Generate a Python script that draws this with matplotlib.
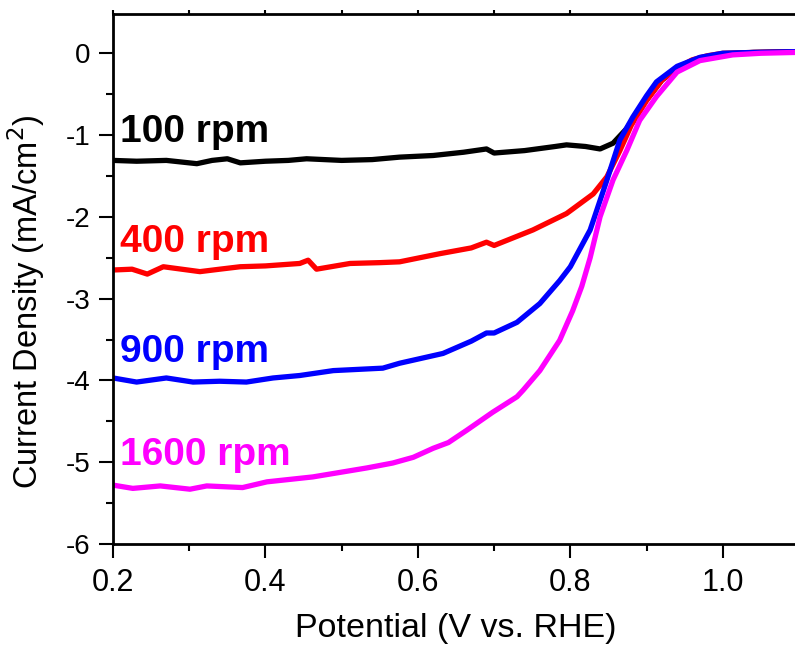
import matplotlib
matplotlib.use("Agg")
import matplotlib.pyplot as plt
from matplotlib.ticker import MultipleLocator, FormatStrFormatter, FuncFormatter

plt.rcParams['font.family'] = ['Liberation Sans', 'DejaVu Sans']

# Data (potential V vs RHE, current density mA/cm2)
x_100 = [0.200, 0.231, 0.270, 0.290, 0.310, 0.330, 0.350, 0.367, 0.400, 0.430,
         0.454, 0.500, 0.540, 0.576, 0.620, 0.660, 0.690, 0.700, 0.740, 0.780,
         0.795, 0.820, 0.839, 0.856, 0.874, 0.890, 0.900, 0.920, 0.940, 0.970,
         1.000, 1.040, 1.095]
y_100 = [-1.31, -1.32, -1.31, -1.33, -1.35, -1.31, -1.29, -1.34, -1.32, -1.31,
         -1.29, -1.31, -1.30, -1.27, -1.25, -1.21, -1.17, -1.22, -1.19, -1.14,
         -1.12, -1.14, -1.17, -1.10, -0.92, -0.70, -0.57, -0.33, -0.18, -0.06,
         -0.01, 0.01, 0.02]

x_400 = [0.200, 0.225, 0.245, 0.266, 0.290, 0.314, 0.340, 0.367, 0.400, 0.445,
         0.456, 0.467, 0.511, 0.550, 0.576, 0.629, 0.670, 0.690, 0.700, 0.751,
         0.795, 0.830, 0.848, 0.865, 0.880, 0.900, 0.920, 0.940, 0.960, 0.980,
         1.000, 1.040, 1.095]
y_400 = [-2.65, -2.64, -2.70, -2.61, -2.64, -2.67, -2.64, -2.61, -2.60, -2.57,
         -2.53, -2.64, -2.57, -2.56, -2.55, -2.45, -2.38, -2.31, -2.35, -2.16,
         -1.96, -1.72, -1.51, -1.19, -0.88, -0.58, -0.33, -0.18, -0.08, -0.03,
         0.00, 0.01, 0.02]

x_900 = [0.200, 0.231, 0.270, 0.305, 0.340, 0.375, 0.410, 0.445, 0.489, 0.554,
         0.576, 0.633, 0.670, 0.690, 0.700, 0.730, 0.760, 0.786, 0.800, 0.826,
         0.848, 0.865, 0.882, 0.900, 0.913, 0.940, 0.970, 1.000, 1.040, 1.095]
y_900 = [-3.97, -4.02, -3.97, -4.02, -4.01, -4.02, -3.97, -3.94, -3.88, -3.85,
         -3.79, -3.67, -3.52, -3.42, -3.42, -3.29, -3.06, -2.78, -2.61, -2.16,
         -1.55, -1.06, -0.78, -0.52, -0.35, -0.16, -0.05, 0.00, 0.01, 0.02]

x_1600 = [0.200, 0.226, 0.262, 0.301, 0.323, 0.370, 0.402, 0.462, 0.533, 0.567,
          0.594, 0.620, 0.640, 0.664, 0.698, 0.730, 0.738, 0.760, 0.786, 0.803,
          0.815, 0.826, 0.839, 0.856, 0.874, 0.891, 0.913, 0.940, 0.970, 1.013,
          1.050, 1.095]
y_1600 = [-5.28, -5.32, -5.29, -5.33, -5.29, -5.31, -5.24, -5.18, -5.07, -5.01,
          -4.94, -4.83, -4.76, -4.61, -4.39, -4.20, -4.12, -3.88, -3.51, -3.15,
          -2.85, -2.50, -2.00, -1.55, -1.19, -0.82, -0.53, -0.23, -0.09, -0.02,
          0.00, 0.01]

labels = ["100 rpm", "400 rpm", "900 rpm", "1600 rpm"]
colors = ["#000000", "#ff0000", "#0000ff", "#ff00ff"]
label_y = [-1.09, -2.43, -3.78, -5.03]

fig = plt.figure(figsize=(7.95, 6.47), dpi=100)
ax = fig.add_axes([113/795, 103/647, 686/795, 530/647])

series = [(x_100, y_100), (x_400, y_400), (x_900, y_900), (x_1600, y_1600)]
for (xs, ys), c in zip(series, colors):
    ax.plot(xs, ys, color=c, lw=3.8)

for lab, c, ly in zip(labels, colors, label_y):
    ax.text(0.209, ly, lab, color=c, fontsize=28, fontweight='bold',
            ha='left', va='baseline')

ax.set_xlim(0.2, 1.1)
ax.set_ylim(-6, 0.48)
ax.xaxis.set_major_locator(MultipleLocator(0.2))
ax.xaxis.set_minor_locator(MultipleLocator(0.1))
ax.yaxis.set_major_locator(MultipleLocator(1))
ax.yaxis.set_minor_locator(MultipleLocator(0.5))
ax.xaxis.set_major_formatter(FormatStrFormatter('%.1f'))
ax.yaxis.set_major_formatter(FuncFormatter(lambda v, p: f"{int(round(v))}"))

ax.tick_params(axis='both', which='major', direction='out', length=10, width=1.5)
ax.tick_params(axis='both', which='minor', direction='out', length=5, width=1.5)
ax.tick_params(axis='x', which='major', labelsize=22, pad=7)
ax.tick_params(axis='y', which='major', labelsize=20, pad=6)
ax.tick_params(axis='x', which='both', top=True)
for t in ax.xaxis.get_major_ticks() + ax.xaxis.get_minor_ticks():
    t.tick2line.set_markersize(3)
for s in ax.spines.values():
    s.set_linewidth(2)
ax.spines['right'].set_visible(False)

ax.set_xlabel("Potential (V vs. RHE)", fontsize=24.5, labelpad=11)
ax.set_ylabel("Current Density (mA/cm$^2$)", fontsize=23.5)
ax.yaxis.set_label_coords(-0.096, 0.457)

fig.savefig("out.png", dpi=100)
